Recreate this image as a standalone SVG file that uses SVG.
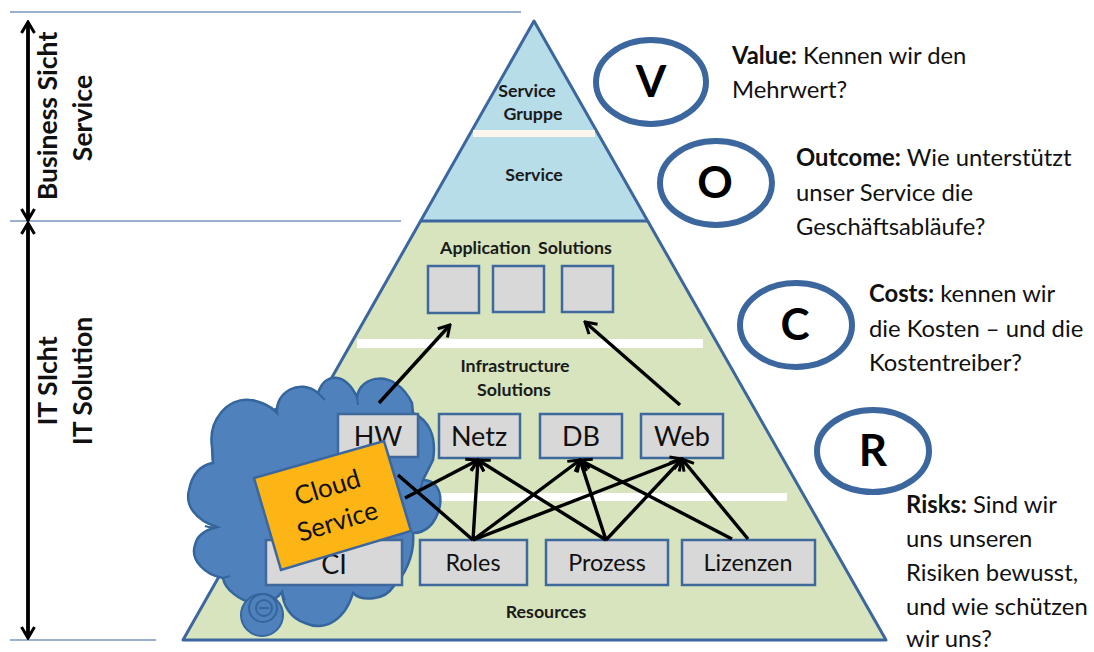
<svg xmlns="http://www.w3.org/2000/svg" width="1094" height="652" viewBox="0 0 1094 652">
<style>
text{font-family:"Lato","Liberation Sans",sans-serif;fill:#111}
.b{font-weight:700}
.lbl{font-size:17.8px;font-weight:700;text-anchor:middle;fill:#1a1a1a}
.box{fill:#d8d8d8;stroke:#3f689c;stroke-width:2.5}
.bt{font-size:27px;text-anchor:middle}
.rt{font-size:23.3px;text-anchor:middle}
.side{font-size:26.6px;font-weight:700;text-anchor:middle}
.q{font-size:23.8px}
.ell{fill:#fff;stroke:#3c669e;stroke-width:6}
.let{font-size:44px;font-weight:700;text-anchor:middle;fill:#000}
.rule{stroke:#7b97c0;stroke-width:1.6;fill:none}
.bar{fill:#fff}
.a{stroke:#000;stroke-width:3.4;fill:none;marker-end:url(#ah)}
.cl{stroke:#34659c;stroke-width:2;fill:none}
</style>
<defs>
<marker id="ah" viewBox="0 0 16 16" refX="14" refY="8" markerWidth="16" markerHeight="16" markerUnits="userSpaceOnUse" orient="auto"><path d="M3 1.5L14 8L3 14.5" fill="none" stroke="#000" stroke-width="3"/></marker>
</defs>
<rect width="1094" height="652" fill="#fff"/>
<g id="rules">
<path class="rule" d="M10 12H521M10 221H401M10 640H156"/>
</g>
<g id="pyramid">
<path d="M534 21L648 221H421Z" fill="#b7dde9"/>
<path d="M421 221H648L886 640H183Z" fill="#d7e4bd"/>
<path d="M534 21L886 640H183Z" fill="none" stroke="#3c669e" stroke-width="3" stroke-linejoin="round"/>
<path d="M421 221H648" stroke="#3c669e" stroke-width="3"/>
<rect x="473" y="130" width="122" height="7" fill="#fdf6ec"/>
<rect class="bar" x="357" y="339" width="346" height="9"/>
<rect class="bar" x="403" y="493" width="384" height="8"/>
</g>
<g id="cloud">
<path d="M212 447C208 420 228 397 250 400C256 400 270 405 277 413C275 392 300 378 318 393C325 372 345 372 357 397C360 375 395 368 412 403L413 413C428 420 437 435 433 460L423 480C435 480 442 490 440 505C436 525 425 533 413 533C415 555 405 575 393 587C385 600 362 602 353 593C345 620 325 632 305 623C290 618 283 605 282 592C272 605 258 605 252 603C240 600 225 590 223 578C205 575 190 560 195 545C197 535 205 530 217 527C195 520 185 505 189 490C192 475 200 465 213 463Z" fill="#4f81bd" stroke="#34659c" stroke-width="2.5"/>
<path class="cl" d="M212 447L213 463M205 526Q210 528 217 527M223 578L230 576M277 413L275 408M318 393L325 400M357 397L358 405M423 480L420 490M282 592L285 600"/>
<circle cx="262" cy="615" r="21" fill="#4f81bd" stroke="#34659c" stroke-width="2"/>
<circle cx="263" cy="608" r="14" fill="none" stroke="#34659c" stroke-width="2"/>
<circle cx="264" cy="608" r="8" fill="none" stroke="#34659c" stroke-width="2"/>
<path class="cl" d="M259 608H269"/>
</g>
<g id="app-solutions">
<text class="lbl" x="526" y="254" word-spacing="3">Application Solutions</text>
<rect class="box" x="428" y="266" width="51" height="47"/>
<rect class="box" x="493" y="266" width="51" height="46"/>
<rect class="box" x="562" y="266" width="51" height="46"/>
</g>
<g id="labels">
<text class="lbl" x="527" y="97">Service</text>
<text class="lbl" x="533" y="120">Gruppe</text>
<text class="lbl" x="534" y="181">Service</text>
<text class="lbl" x="515" y="372">Infrastructure</text>
<text class="lbl" x="514" y="396">Solutions</text>
<text class="lbl" x="546" y="618">Resources</text>
</g>
<g id="hw"><rect class="box" x="338" y="414" width="80" height="43"/><text class="bt" x="378" y="446">HW</text></g>
<g id="netz"><rect class="box" x="439" y="414" width="81" height="44"/><text class="bt" x="479" y="446">Netz</text></g>
<g id="db"><rect class="box" x="540" y="414" width="82" height="44"/><text class="bt" x="581" y="446">DB</text></g>
<g id="web"><rect class="box" x="641" y="414" width="82" height="44"/><text class="bt" x="682" y="446">Web</text></g>
<g id="ci"><rect class="box" x="266" y="540" width="136" height="45"/><text class="bt" x="334" y="574">CI</text></g>
<g id="roles"><rect class="box" x="420" y="540" width="107" height="45"/><text class="rt" x="473" y="571">Roles</text></g>
<g id="prozess"><rect class="box" x="546" y="540" width="122" height="45"/><text class="rt" x="607" y="571">Prozess</text></g>
<g id="lizenzen"><rect class="box" x="682" y="540" width="133" height="45"/><text class="rt" x="748" y="571">Lizenzen</text></g>
<g id="connectors">
<path class="a" d="M379 403L450 325"/>
<path class="a" d="M680 405L585 322"/>
<path class="a" d="M398 475L473 540" style="marker-end:none"/>
<path class="a" d="M405 498L478 460"/>
<path class="a" d="M473 540L478 460"/>
<path class="a" d="M473 540L580 460"/>
<path class="a" d="M473 540L682 459"/>
<path class="a" d="M606 540L478 460"/>
<path class="a" d="M606 540L580 460"/>
<path class="a" d="M606 540L682 459"/>
<path class="a" d="M732 539L580 460"/>
<path class="a" d="M748 539L682 459"/>
<path class="a" d="M28 221V22"/>
<path class="a" d="M28 22V220"/>
<path class="a" d="M28 638V223"/>
<path class="a" d="M28 223V638"/>
</g>
<g id="cloud-service">
<path d="M254 478L384 441L411 531L281 570Z" fill="#fdb515" stroke="#3c669e" stroke-width="2.5"/>
<text transform="rotate(-17 330 496)" x="330" y="496" font-size="26" text-anchor="middle">Cloud</text>
<text transform="rotate(-17 340 530)" x="340" y="530" font-size="26" text-anchor="middle">Service</text>
</g>
<g id="v"><ellipse class="ell" cx="651" cy="82" rx="55" ry="42"/><text class="let" x="651" y="97">V</text></g>
<g id="o"><ellipse class="ell" cx="716" cy="183" rx="56" ry="42"/><text class="let" x="715" y="198">O</text></g>
<g id="c"><ellipse class="ell" cx="796" cy="325" rx="56" ry="42"/><text class="let" x="795" y="340">C</text></g>
<g id="r"><ellipse class="ell" cx="873" cy="451" rx="56" ry="41"/><text class="let" x="873" y="466">R</text></g>
<g id="side-text">
<text class="side" transform="translate(57 116) rotate(-90)">Business Sicht</text>
<text class="side" transform="translate(92 118) rotate(-90)">Service</text>
<text class="side" transform="translate(57 381) rotate(-90)">IT SIcht</text>
<text class="side" transform="translate(92 381) rotate(-90)">IT Solution</text>
</g>
<g id="questions">
<text class="q" x="732" y="64"><tspan class="b">Value:</tspan> Kennen wir den</text>
<text class="q" x="732" y="98">Mehrwert?</text>
<text class="q" x="796" y="166"><tspan class="b">Outcome:</tspan> Wie unterstützt</text>
<text class="q" x="796" y="201">unser Service die</text>
<text class="q" x="796" y="235">Geschäftsabläufe?</text>
<text class="q" x="869" y="302"><tspan class="b">Costs:</tspan> kennen wir</text>
<text class="q" x="869" y="337">die Kosten – und die</text>
<text class="q" x="869" y="371">Kostentreiber?</text>
<text class="q" x="906" y="513"><tspan class="b">Risks:</tspan> Sind wir</text>
<text class="q" x="906" y="547">uns unseren</text>
<text class="q" x="906" y="581">Risiken bewusst,</text>
<text class="q" x="906" y="615">und wie schützen</text>
<text class="q" x="906" y="647">wir uns?</text>
</g>
</svg>
